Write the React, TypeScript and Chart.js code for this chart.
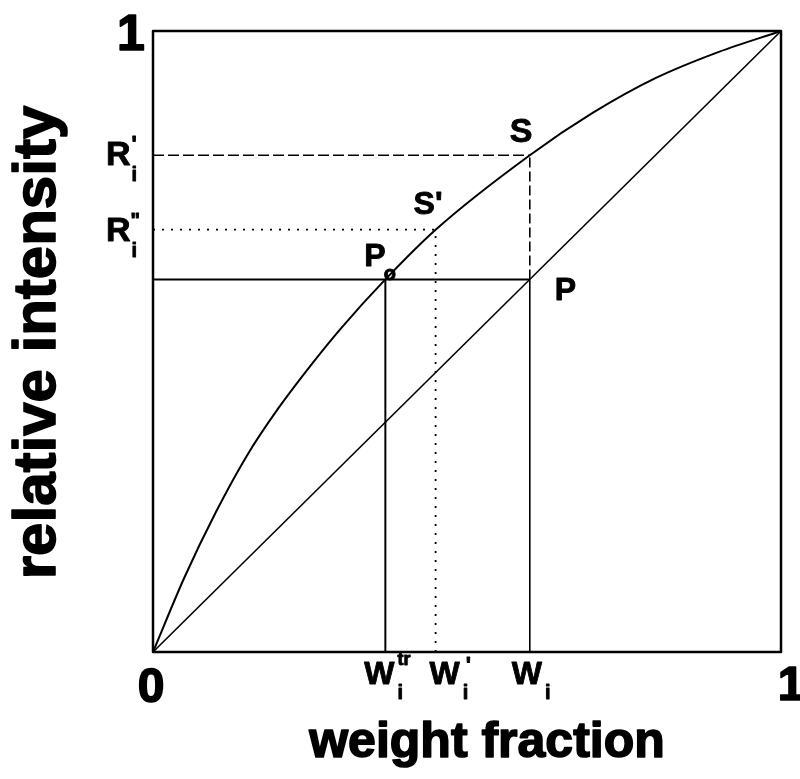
import React, { useEffect, useRef } from "react";
import { Chart, registerables } from "chart.js";

Chart.register(...registerables);

// Calibration curve: relative intensity against weight fraction
const curveX = [0, 0.05, 0.1, 0.15, 0.2, 0.25, 0.3, 0.37, 0.45, 0.6, 0.7, 0.8, 0.9, 1];
const curveY = [0, 0.12, 0.225, 0.317, 0.393, 0.46, 0.522, 0.6, 0.68, 0.8, 0.868, 0.924, 0.966, 1];

// Linear (ideal) response
const diagX = [0, 1];
const diagY = [0, 1];

// Weight fractions marked on the x axis
const wTrue = 0.37; // W_i^tr
const wPrime = 0.45; // W_i'
const wI = 0.6; // W_i

// Relative intensities marked on the y axis
const rMeasured = 0.6; // level of P and P_o
const rPrime = 0.8; // R_i'
const rDouble = 0.68; // R_i''

const FONT = '"Liberation Sans", Arial, Helvetica, sans-serif';

const pts = (xs: number[], ys: number[]) => xs.map((x, i) => ({ x, y: ys[i] }));

function text(ctx: CanvasRenderingContext2D, s: string, x: number, y: number, size: number, align: CanvasTextAlign = "left") {
  ctx.font = `bold ${size}px ${FONT}`;
  ctx.textAlign = align;
  ctx.textBaseline = "alphabetic";
  ctx.fillText(s, x, y);
  ctx.lineWidth = size >= 40 ? 1.6 : 0.9;
  ctx.strokeText(s, x, y);
  return ctx.measureText(s).width;
}

const annotations = {
  id: "annotations",
  afterDatasetsDraw(chart: Chart) {
    const ctx = chart.ctx;
    const { left, right, top, bottom } = chart.chartArea;
    const xs = chart.scales.x;
    const ys = chart.scales.y;
    ctx.save();
    ctx.fillStyle = "#000";
    ctx.strokeStyle = "#000";
    ctx.lineJoin = "round";

    // frame
    ctx.lineWidth = 2.5;
    ctx.strokeRect(left, top, right - left, bottom - top);

    // axis end values
    text(ctx, "1", left - 22, top + 19, 50, "center");
    text(ctx, "0", left - 2, bottom + 50, 48, "center");
    text(ctx, "1", right + 10, bottom + 48, 48, "center");

    // x tick symbols
    let px = xs.getPixelForValue(wTrue);
    let w = text(ctx, "W", px - 21, bottom + 32, 32);
    text(ctx, "tr", px - 21 + w + 3, bottom + 13, 18);
    text(ctx, "i", px - 21 + w + 3, bottom + 47, 20);

    px = xs.getPixelForValue(wPrime);
    w = text(ctx, "W", px - 6, bottom + 32, 32);
    text(ctx, "'", px - 6 + w + 6, bottom + 20, 22);
    text(ctx, "i", px - 6 + w + 3, bottom + 47, 20);

    px = xs.getPixelForValue(wI);
    w = text(ctx, "W", px - 18, bottom + 32, 32);
    text(ctx, "i", px - 18 + w + 3, bottom + 47, 20);

    // y tick symbols
    let py = ys.getPixelForValue(rPrime);
    w = text(ctx, "R", left - 47, py + 10, 34);
    text(ctx, "'", left - 47 + w + 1, py - 4, 22);
    text(ctx, "i", left - 47 + w + 1, py + 26, 20);

    py = ys.getPixelForValue(rDouble);
    w = text(ctx, "R", left - 47, py + 11, 34);
    text(ctx, "\"", left - 47 + w, py - 3, 20);
    text(ctx, "i", left - 47 + w + 1, py + 27, 20);

    // point labels
    text(ctx, "S", xs.getPixelForValue(wI) - 20, ys.getPixelForValue(rPrime) - 13, 34);
    text(ctx, "S'", xs.getPixelForValue(wPrime) - 22, ys.getPixelForValue(rDouble) - 16, 32);
    w = text(ctx, "P", xs.getPixelForValue(wTrue) - 21, ys.getPixelForValue(rMeasured) - 13, 32);
    text(ctx, "o", xs.getPixelForValue(wTrue) - 21 + w - 2, ys.getPixelForValue(rMeasured) + 1, 20);
    text(ctx, "P", xs.getPixelForValue(wI) + 25, ys.getPixelForValue(rMeasured) + 21, 32);

    // axis titles
    text(ctx, "weight fraction", (left + right) / 2 + 20, bottom + 105, 50, "center");
    ctx.translate(55, (top + bottom) / 2 + 1);
    ctx.rotate(-Math.PI / 2);
    text(ctx, "relative intensity", 0, 0, 60, "center");

    ctx.restore();
  },
};

export default function App() {
  const ref = useRef<HTMLCanvasElement>(null);

  useEffect(() => {
    if (!ref.current) return;
    const line = (data: { x: number; y: number }[], width: number, dash: number[] = []) => ({
      data,
      borderColor: "#000",
      borderWidth: width,
      borderDash: dash,
      pointRadius: 0,
      fill: false,
      tension: 0,
      clip: false as const,
    });
    const chart = new Chart(ref.current, {
      type: "line",
      data: {
        datasets: [
          { ...line(pts(curveX, curveY), 2), cubicInterpolationMode: "monotone" as const },
          line(pts(diagX, diagY), 1.6),
          line([{ x: 0, y: rMeasured }, { x: wI, y: rMeasured }], 2),
          line([{ x: wTrue, y: 0 }, { x: wTrue, y: rMeasured }], 2),
          line([{ x: wI, y: 0 }, { x: wI, y: rMeasured }], 1.6),
          line([{ x: wI, y: rMeasured }, { x: wI, y: rPrime }], 1.6, [10, 4]),
          line([{ x: 0, y: rPrime }, { x: wI, y: rPrime }], 1.6, [11, 4]),
          line([{ x: 0, y: rDouble }, { x: wPrime, y: rDouble }], 1.8, [2, 7]),
          line([{ x: wPrime, y: 0 }, { x: wPrime, y: rDouble }], 1.8, [2, 7]),
        ],
      },
      options: {
        responsive: false,
        animation: false,
        devicePixelRatio: 1,
        layout: { padding: { left: 153, right: 19, top: 31, bottom: 127 } },
        plugins: { legend: { display: false }, tooltip: { enabled: false } },
        scales: {
          x: { type: "linear", min: 0, max: 1, display: false },
          y: { type: "linear", min: 0, max: 1, display: false },
        },
      },
      plugins: [annotations],
    });
    return () => chart.destroy();
  }, []);

  return (
    <div style={{ position: "fixed", left: 0, top: 0, width: 800, height: 779, background: "#fff" }}>
      <canvas ref={ref} width={800} height={779} style={{ width: 800, height: 779, display: "block" }} />
    </div>
  );
}
